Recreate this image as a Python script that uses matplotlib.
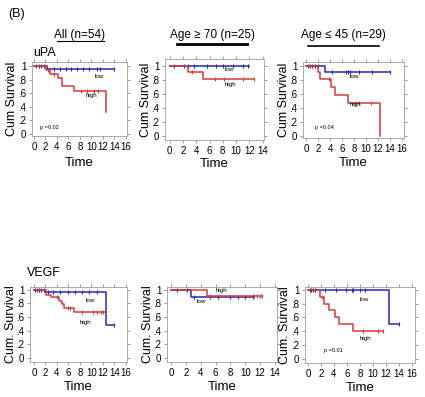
import numpy as np
import matplotlib
matplotlib.use("Agg")
import matplotlib.pyplot as plt

plt.rcParams["font.family"] = ["Liberation Sans", "DejaVu Sans"]

W, H = 425, 397

# ---- data (time in years, cumulative survival) ----
# uPA, all patients
upa_all_low_t = [0, 2.2, 14]
upa_all_low_s = [1, 0.95, 0.95]
upa_all_low_cens = [0.4, 0.8, 1.2, 1.8, 3.5, 4.5, 5.5, 6.5, 7.5, 8.5, 9.5, 11.0, 11.5, 14]
upa_all_high_t = [0, 2.1, 2.7, 4.2, 4.9, 7.0, 12.5, 12.5]
upa_all_high_s = [1, 0.94, 0.88, 0.82, 0.71, 0.64, 0.64, 0.33]
upa_all_high_cens = [2.5, 3.4, 8.2, 9.3, 10.5, 11.2]

# uPA, age >= 70
upa_70_low_t = [0, 12]
upa_70_low_s = [1, 1]
upa_70_low_cens = [0.7, 2.2, 2.7, 3.6, 5.6, 7.0, 8.0, 9.5, 11.0, 11.8]
upa_70_high_t = [0, 2.8, 5.0, 12.7]
upa_70_high_s = [1, 0.92, 0.82, 0.82]
upa_70_high_cens = [3.3, 6.8, 8.2, 11.0, 12.7]

# uPA, age <= 45
upa_45_low_t = [0, 3.2, 14]
upa_45_low_s = [1, 0.91, 0.91]
upa_45_low_cens = [0.3, 0.6, 1.0, 1.5, 2.0, 4.3, 6.6, 7.0, 7.4, 8.8, 11.0, 14]
upa_45_high_t = [0, 2.0, 2.3, 4.2, 4.8, 7.0, 12.3, 12.3]
upa_45_high_s = [1, 0.91, 0.81, 0.70, 0.59, 0.47, 0.47, 0.0]
upa_45_high_cens = [3.8, 8.2, 8.8, 10.8]

# VEGF, all patients
vegf_all_low_t = [0, 2.0, 12.6, 14]
vegf_all_low_s = [1, 0.96, 0.48, 0.48]
vegf_all_low_cens = [0.2, 0.5, 0.8, 1.2, 1.7, 2.5, 3.3, 4.5, 6.0, 7.2, 8.3, 9.5, 11.0, 14]
vegf_all_high_t = [0, 2.1, 3.0, 4.3, 4.8, 5.2, 7.0, 12.5]
vegf_all_high_s = [1, 0.93, 0.89, 0.84, 0.79, 0.73, 0.68, 0.68]
vegf_all_high_cens = [4.0, 5.9, 6.3, 8.3, 10.2, 11.0, 11.6, 12.0]

# VEGF, age >= 70
vegf_70_low_t = [0, 2.7, 11.0]
vegf_70_low_s = [1, 0.90, 0.90]
vegf_70_low_cens = [0.8, 2.2, 3.1, 5.3, 6.3, 7.9, 9.0, 10.0, 11.0]
vegf_70_high_t = [0, 4.8, 12.3]
vegf_70_high_s = [1, 0.91, 0.91]
vegf_70_high_cens = [5.3, 11.2, 11.6, 12.0, 12.3]

# VEGF, age <= 45
vegf_45_low_t = [0, 12.4, 14]
vegf_45_low_s = [1, 0.5, 0.5]
vegf_45_low_cens = [0.3, 0.5, 0.8, 1.1, 2.6, 4.3, 5.8, 6.7, 7.0, 8.0, 8.8, 14]
vegf_45_high_t = [0, 1.9, 2.4, 3.2, 4.2, 4.8, 7.0, 11.5]
vegf_45_high_s = [1, 0.90, 0.80, 0.71, 0.61, 0.51, 0.41, 0.41]
vegf_45_high_cens = [2.1, 8.5, 10.8, 11.5]

panel_titles = ["All (n=54)", "Age \u2265 70 (n=25)", "Age \u2264 45 (n=29)"]
row_labels = ["uPA", "VEGF"]
ytick_vals = [0, 0.2, 0.4, 0.6, 0.8, 1.0]
ytick_text = ["0", ".2", ".4", ".6", ".8", "1"]

BLUE = "#2a2aa8"
RED = "#d23c3c"

panels = [
    # rect in px (left, top, right, bottom); ylabel x and xlabel y in px
    dict(rect=(32, 62, 127, 136), xlim=(-0.35, 16.2), ylim=(-0.03, 1.06), xmax=16,
         low=(upa_all_low_t, upa_all_low_s, upa_all_low_cens),
         high=(upa_all_high_t, upa_all_high_s, upa_all_high_cens),
         low_lab=(10.5, 0.82), high_lab=(9.0, 0.55), p=("p =0.02", (1.0, 0.07)),
         ylabel="Cum Survival", ylab_x=12, xlab_y=163),
    dict(rect=(165, 59, 264, 140), xlim=(-0.7, 14.2), ylim=(-0.06, 1.1), xmax=14,
         low=(upa_70_low_t, upa_70_low_s, upa_70_low_cens),
         high=(upa_70_high_t, upa_70_high_s, upa_70_high_cens),
         low_lab=(8.3, 0.93), high_lab=(8.3, 0.72), p=None,
         ylabel="Cum Survival", ylab_x=146, xlab_y=164),
    dict(rect=(303, 62, 404, 138), xlim=(-0.5, 16.3), ylim=(-0.03, 1.06), xmax=16,
         low=(upa_45_low_t, upa_45_low_s, upa_45_low_cens),
         high=(upa_45_high_t, upa_45_high_s, upa_45_high_cens),
         low_lab=(7.3, 0.83), high_lab=(7.3, 0.43), p=("p =0.04", (1.5, 0.1)),
         ylabel="Cum Survival", ylab_x=284, xlab_y=163),
    dict(rect=(30, 287, 127, 362), xlim=(-0.7, 16.2), ylim=(-0.06, 1.04), xmax=16,
         low=(vegf_all_low_t, vegf_all_low_s, vegf_all_low_cens),
         high=(vegf_all_high_t, vegf_all_high_s, vegf_all_high_cens),
         low_lab=(9.0, 0.82), high_lab=(8.0, 0.5), p=None,
         ylabel="Cum. Survival", ylab_x=11, xlab_y=387),
    dict(rect=(167, 287, 277, 362), xlim=(-0.54, 14.27), ylim=(-0.06, 1.04), xmax=14,
         low=(vegf_70_low_t, vegf_70_low_s, vegf_70_low_cens),
         high=(vegf_70_high_t, vegf_70_high_s, vegf_70_high_cens),
         low_lab=(3.5, 0.80), high_lab=(6.0, 0.96), p=None,
         ylabel="Cum. Survival", ylab_x=148, xlab_y=387),
    dict(rect=(305, 287, 415, 363), xlim=(-0.46, 16.46), ylim=(-0.06, 1.04), xmax=16,
         low=(vegf_45_low_t, vegf_45_low_s, vegf_45_low_cens),
         high=(vegf_45_high_t, vegf_45_high_s, vegf_45_high_cens),
         low_lab=(8.0, 0.84), high_lab=(8.0, 0.28), p=("p =0.01", (2.5, 0.1)),
         ylabel="Cum. Survival", ylab_x=285, xlab_y=388),
]


def step_value(t, s, x):
    i = np.searchsorted(t, x, side="right") - 1
    return np.asarray(s)[np.clip(i, 0, len(s) - 1)]


def km(ax, t, s, cens, color):
    ax.step(t, s, where="post", color=color, lw=1.1)
    cy = step_value(np.asarray(t), s, np.asarray(cens))
    ax.plot(cens, cy, linestyle="none", marker="|", ms=3.5, mew=0.8, color=color)


fig = plt.figure(figsize=(W / 100, H / 100), dpi=100)

for k, p in enumerate(panels):
    l, t, r, b = p["rect"]
    ax = fig.add_axes([l / W, 1 - b / H, (r - l) / W, (b - t) / H])
    km(ax, *p["low"], BLUE)
    km(ax, *p["high"], RED)
    ax.set_xlim(*p["xlim"])
    ax.set_ylim(*p["ylim"])
    ax.set_xticks(np.arange(0, p["xmax"] + 1, 2))
    ax.set_yticks(ytick_vals)
    ax.set_yticklabels(ytick_text)
    ax.tick_params(labelsize=7, length=2.5, width=0.6, color="#888888", pad=1.5)
    ax.tick_params(axis="x", pad=2.0)
    ax.tick_params(top=True, right=True, direction="out")
    for sp in ax.spines.values():
        sp.set_color("#aaaaaa")
        sp.set_linewidth(0.7)
    ax.set_xlabel("Time", fontsize=9.5)
    ax.set_ylabel(p["ylabel"], fontsize=9)
    # place axis labels at fixed pixel positions
    ax.yaxis.set_label_coords((p["ylab_x"] - l) / (r - l), 0.5)
    ax.xaxis.set_label_coords(0.5, (b - p["xlab_y"]) / (b - t))
    ax.yaxis.label.set_va("center")
    ax.xaxis.label.set_va("center")
    ax.text(*p["low_lab"], "low", fontsize=4.5)
    ax.text(*p["high_lab"], "high", fontsize=4.5)
    if p["p"]:
        ax.text(*p["p"][1], p["p"][0], fontsize=4)

# column titles with underline
title_pos = [(80, 35), (212, 35), (343, 35)]
underline = [(57, 104, 40.5, 0.8), (177, 247, 44, 2.0), (308, 379, 46, 1.2)]
for (x, y), txt, (x0, x1, yl, lw) in zip(title_pos, panel_titles, underline):
    fig.text(x / W, 1 - y / H, txt, fontsize=8.5, ha="center", va="center")
    fig.add_artist(plt.Line2D([x0 / W, x1 / W], [1 - yl / H, 1 - yl / H], color="black", lw=lw))

fig.text(33 / W, 1 - 53 / H, row_labels[0], fontsize=9, va="center")
fig.text(27 / W, 1 - 273 / H, row_labels[1], fontsize=9, va="center")
fig.text(8 / W, 1 - 14 / H, "(B)", fontsize=9, va="center")

fig.savefig("out.png", dpi=100)
